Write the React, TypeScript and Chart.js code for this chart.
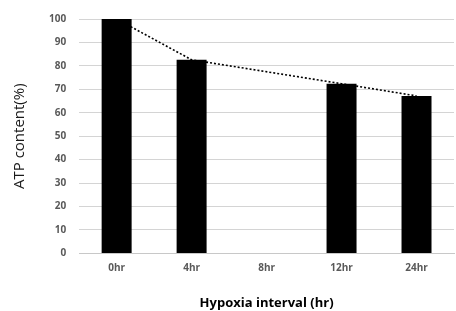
import React, { useEffect, useRef } from "react";
import { Chart, registerables } from "chart.js";

Chart.register(...registerables);

const categories = ["0hr", "4hr", "8hr", "12hr", "24hr"];
const atpValues = [100, 82.6, null, 72.4, 67.2];
const trendValues = [100, 82.6, null, 72.4, 67.2];
const yTicks = [0, 10, 20, 30, 40, 50, 60, 70, 80, 90, 100];

export default function App() {
  const ref = useRef<HTMLCanvasElement | null>(null);
  useEffect(() => {
    document.body.style.margin = "0";
    const ctx = ref.current!;
    const chart = new Chart(ctx, {
      type: "bar",
      data: {
        labels: categories,
        datasets: [
          {
            type: "line",
            data: trendValues,
            borderColor: "#000000",
            borderWidth: 1.6,
            borderDash: [2, 2],
            pointRadius: 0,
            spanGaps: true,
            tension: 0,
            fill: false,
          } as any,
          {
            type: "bar",
            data: atpValues,
            backgroundColor: "#000000",
            borderColor: "#000000",
            borderWidth: 0,
            barPercentage: 0.4,
            categoryPercentage: 1,
          },
        ],
      },
      options: {
        animation: false,
        responsive: false,
        maintainAspectRatio: false,
        layout: { padding: { left: 11, right: 2, top: 7, bottom: 0 } },
        plugins: {
          legend: { display: false },
          tooltip: { enabled: false },
        },
        scales: {
          x: {
            grid: { display: false, drawTicks: false },
            border: { display: true, color: "#c8c8c8", width: 1 },
            ticks: {
              color: "#595959",
              font: { family: "Open Sans", weight: "bold", size: 10 },
              padding: 9,
            },
            title: {
              display: true,
              text: "Hypoxia interval (hr)",
              color: "#000000",
              font: { family: "Open Sans", weight: "bold", size: 13 },
              padding: { top: 12, bottom: 0 },
            },
          },
          y: {
            min: 0,
            max: 100,
            afterBuildTicks: (axis: any) => {
              axis.ticks = yTicks.map((v) => ({ value: v }));
            },
            grid: { color: "#d4d4d4", lineWidth: 1, drawTicks: false },
            border: { display: false },
            ticks: {
              color: "#595959",
              font: { family: "Open Sans", weight: "bold", size: 10 },
              padding: 13,
            },
            title: {
              display: true,
              text: "ATP content(%)",
              color: "#1a1a1a",
              font: { family: "Open Sans", size: 15 },
              padding: { top: 0, bottom: 7 },
            },
          },
        },
      },
    });
    return () => chart.destroy();
  }, []);
  return (
    <div style={{ width: 456, height: 311 }}>
      <canvas ref={ref} width={456} height={311} style={{ display: "block" }} />
    </div>
  );
}
